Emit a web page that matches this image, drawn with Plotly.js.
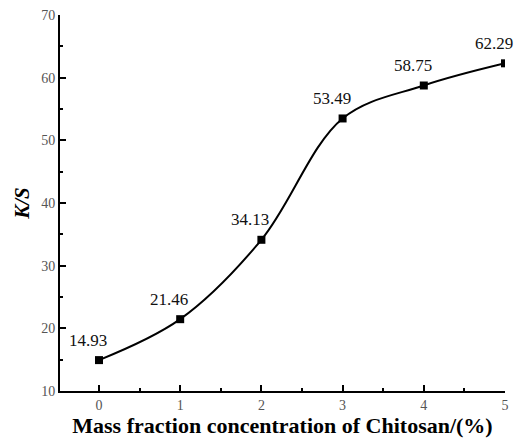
<!DOCTYPE html>
<html><head><meta charset="utf-8">
<script src="https://cdn.plot.ly/plotly-3.0.1.min.js"></script>
<style>html,body{margin:0;padding:0;background:#fff}#chart{width:515px;height:446px}</style>
</head><body><div id="chart"></div>
<script>
const concentration = [0, 1, 2, 3, 4, 5];
const ksValues = [14.93, 21.46, 34.13, 53.49, 58.75, 62.29];
const valueLabels = ['14.93', '21.46', '34.13', '53.49', '58.75', '62.29'];
const xTitle = 'Mass fraction concentration of Chitosan/(%)';
const yTitle = 'K/S';

const serif = '"Liberation Serif", "DejaVu Serif", serif';

const trace = {
  x: concentration, y: ksValues, type: 'scatter', mode: 'lines+markers',
  line: {shape: 'spline', smoothing: 1, color: '#000', width: 2},
  marker: {symbol: 'square', size: 8, color: '#000'},
  hoverinfo: 'skip', showlegend: false
};

const annotations = concentration.map((c, i) => ({
  x: c, y: ksValues[i], text: valueLabels[i], showarrow: false,
  xshift: -11, yshift: 20, xanchor: 'center', yanchor: 'middle',
  font: {family: serif, size: 17, color: '#111'}
}));

const axisCommon = {
  showline: true, linecolor: '#000', linewidth: 2,
  ticks: 'inside', ticklen: 6, tickwidth: 2, tickcolor: '#000',
  showgrid: false, zeroline: false,
  tickfont: {family: serif, size: 14, color: '#555'}
};

const layout = {
  width: 515, height: 446,
  margin: {l: 60, r: 10, t: 15, b: 55},
  paper_bgcolor: '#fff', plot_bgcolor: '#fff',
  font: {family: serif},
  xaxis: Object.assign({}, axisCommon, {
    range: [-0.48, 5], dtick: 1, tick0: 0,
    minor: {dtick: 0.5, ticks: 'inside', ticklen: 3, tickwidth: 2, tickcolor: '#000'},
    title: {text: '<b>' + xTitle + '</b>', font: {family: serif, size: 22, color: '#000'}, standoff: 2}
  }),
  yaxis: Object.assign({}, axisCommon, {
    range: [10, 70], dtick: 10, tick0: 10,
    minor: {dtick: 5, ticks: 'inside', ticklen: 3, tickwidth: 2, tickcolor: '#000'},
    title: {text: '<b><i>' + yTitle + '</i></b>', font: {family: serif, size: 21, color: '#000'}, standoff: 6}
  }),
  annotations: annotations
};

Plotly.newPlot('chart', [trace], layout, {displayModeBar: false, staticPlot: true});
</script>
</body></html>
